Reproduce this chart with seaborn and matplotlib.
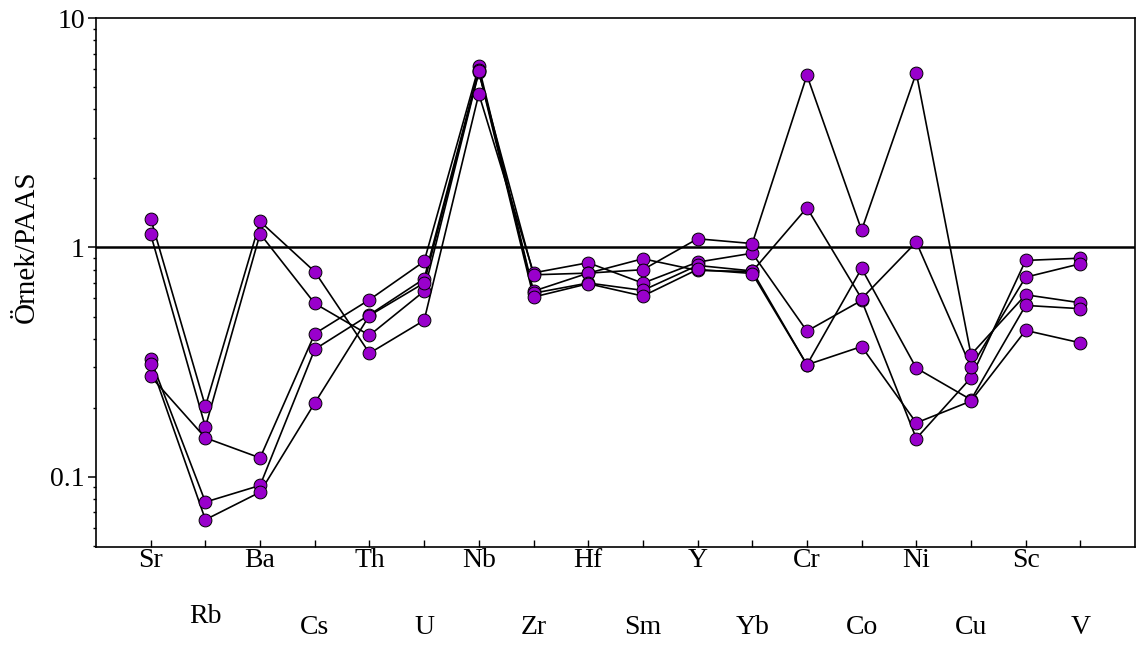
import matplotlib
matplotlib.use("Agg")
import matplotlib.pyplot as plt
import numpy as np
import pandas as pd
import seaborn as sns
from matplotlib.ticker import FixedLocator, FuncFormatter, LogLocator, NullFormatter

elements = ["Sr", "Rb", "Ba", "Cs", "Th", "U", "Nb", "Zr", "Hf", "Sm",
            "Y", "Yb", "Cr", "Co", "Ni", "Cu", "Sc", "V"]

sample_1 = [1.334, 0.203, 1.298, 0.784, 0.346, 0.481, 4.67, 0.775, 0.858, 0.699,
            0.863, 0.944, 0.432, 0.588, 0.147, 0.2705, 0.878, 0.898]
sample_2 = [1.139, 0.165, 1.147, 0.570, 0.414, 0.645, 5.80, 0.760, 0.773, 0.893,
            0.794, 0.786, 1.489, 0.598, 1.055, 0.301, 0.742, 0.849]
sample_3 = [0.274, 0.148, 0.121, 0.421, 0.592, 0.869, 6.15, 0.645, 0.773, 0.800,
            1.091, 1.040, 5.63, 1.19, 5.77, 0.341, 0.622, 0.574]
sample_4 = [0.325, 0.0777, 0.0918, 0.360, 0.509, 0.730, 5.95, 0.632, 0.700, 0.650,
            0.835, 0.790, 0.308, 0.810, 0.298, 0.217, 0.559, 0.541]
sample_5 = [0.311, 0.0651, 0.0858, 0.210, 0.505, 0.700, 5.85, 0.608, 0.695, 0.614,
            0.802, 0.770, 0.308, 0.370, 0.172, 0.214, 0.435, 0.384]

samples = {"S1": sample_1, "S2": sample_2, "S3": sample_3, "S4": sample_4, "S5": sample_5}

rows = []
for name, vals in samples.items():
    for i, v in enumerate(vals):
        rows.append({"sample": name, "pos": i, "element": elements[i], "value": v})
df = pd.DataFrame(rows)

sns.set_style("ticks")
plt.rcParams["font.family"] = ["Liberation Serif", "DejaVu Serif"]
plt.rcParams["axes.linewidth"] = 1.2
for key in ["text.color", "axes.labelcolor", "xtick.color", "ytick.color", "axes.edgecolor"]:
    plt.rcParams[key] = "black"

fig = plt.figure(figsize=(11.42, 6.46), dpi=100)
ax = fig.add_axes([0.0841, 0.1533, 0.9098, 0.8188])
ax.set_yscale("log")

ax.axhline(1, color="black", lw=1.8, zorder=1)

sns.lineplot(data=df, x="pos", y="value", units="sample", estimator=None,
             sort=False, color="black", lw=1.2, ax=ax, legend=False, zorder=2)
sns.scatterplot(data=df, x="pos", y="value", color="#9900CC", edgecolor="black",
                linewidth=0.7, s=85, ax=ax, legend=False, zorder=3)

ax.set_xlim(-1, 18)
ax.set_ylim(0.0495, 10)

ax.yaxis.set_major_locator(FixedLocator([0.1, 1, 10]))
ax.yaxis.set_major_formatter(FuncFormatter(lambda v, p: "{:g}".format(v)))
ax.yaxis.set_minor_locator(LogLocator(base=10, subs=np.arange(2, 10)))
ax.yaxis.set_minor_formatter(NullFormatter())
ax.tick_params(axis="y", which="major", direction="out", length=6, width=1.1,
               labelsize=20, pad=2, colors="black")
ax.tick_params(axis="y", which="minor", direction="out", length=2.5, width=1.0,
               colors="black")

ax.set_xticks(range(len(elements)))
ax.set_xticklabels([])
ax.tick_params(axis="x", which="both", direction="in", length=5, width=1.0,
               colors="black")

trans = ax.get_xaxis_transform()
for i, name in enumerate(elements):
    if i % 2 == 0:
        y = -0.025
    else:
        y = -0.132 if name == "Rb" else -0.153
    ax.text(i, y, name, transform=trans, ha="center", va="center", fontsize=20,
            color="black")

ax.set_xlabel("")
ax.set_ylabel("Örnek/PAAS", fontsize=21, color="black")
ax.yaxis.set_label_coords(-0.054, 0.567)

for s in ax.spines.values():
    s.set_visible(True)
    s.set_linewidth(1.2)
    s.set_color("black")

fig.savefig("out.png", dpi=100)
